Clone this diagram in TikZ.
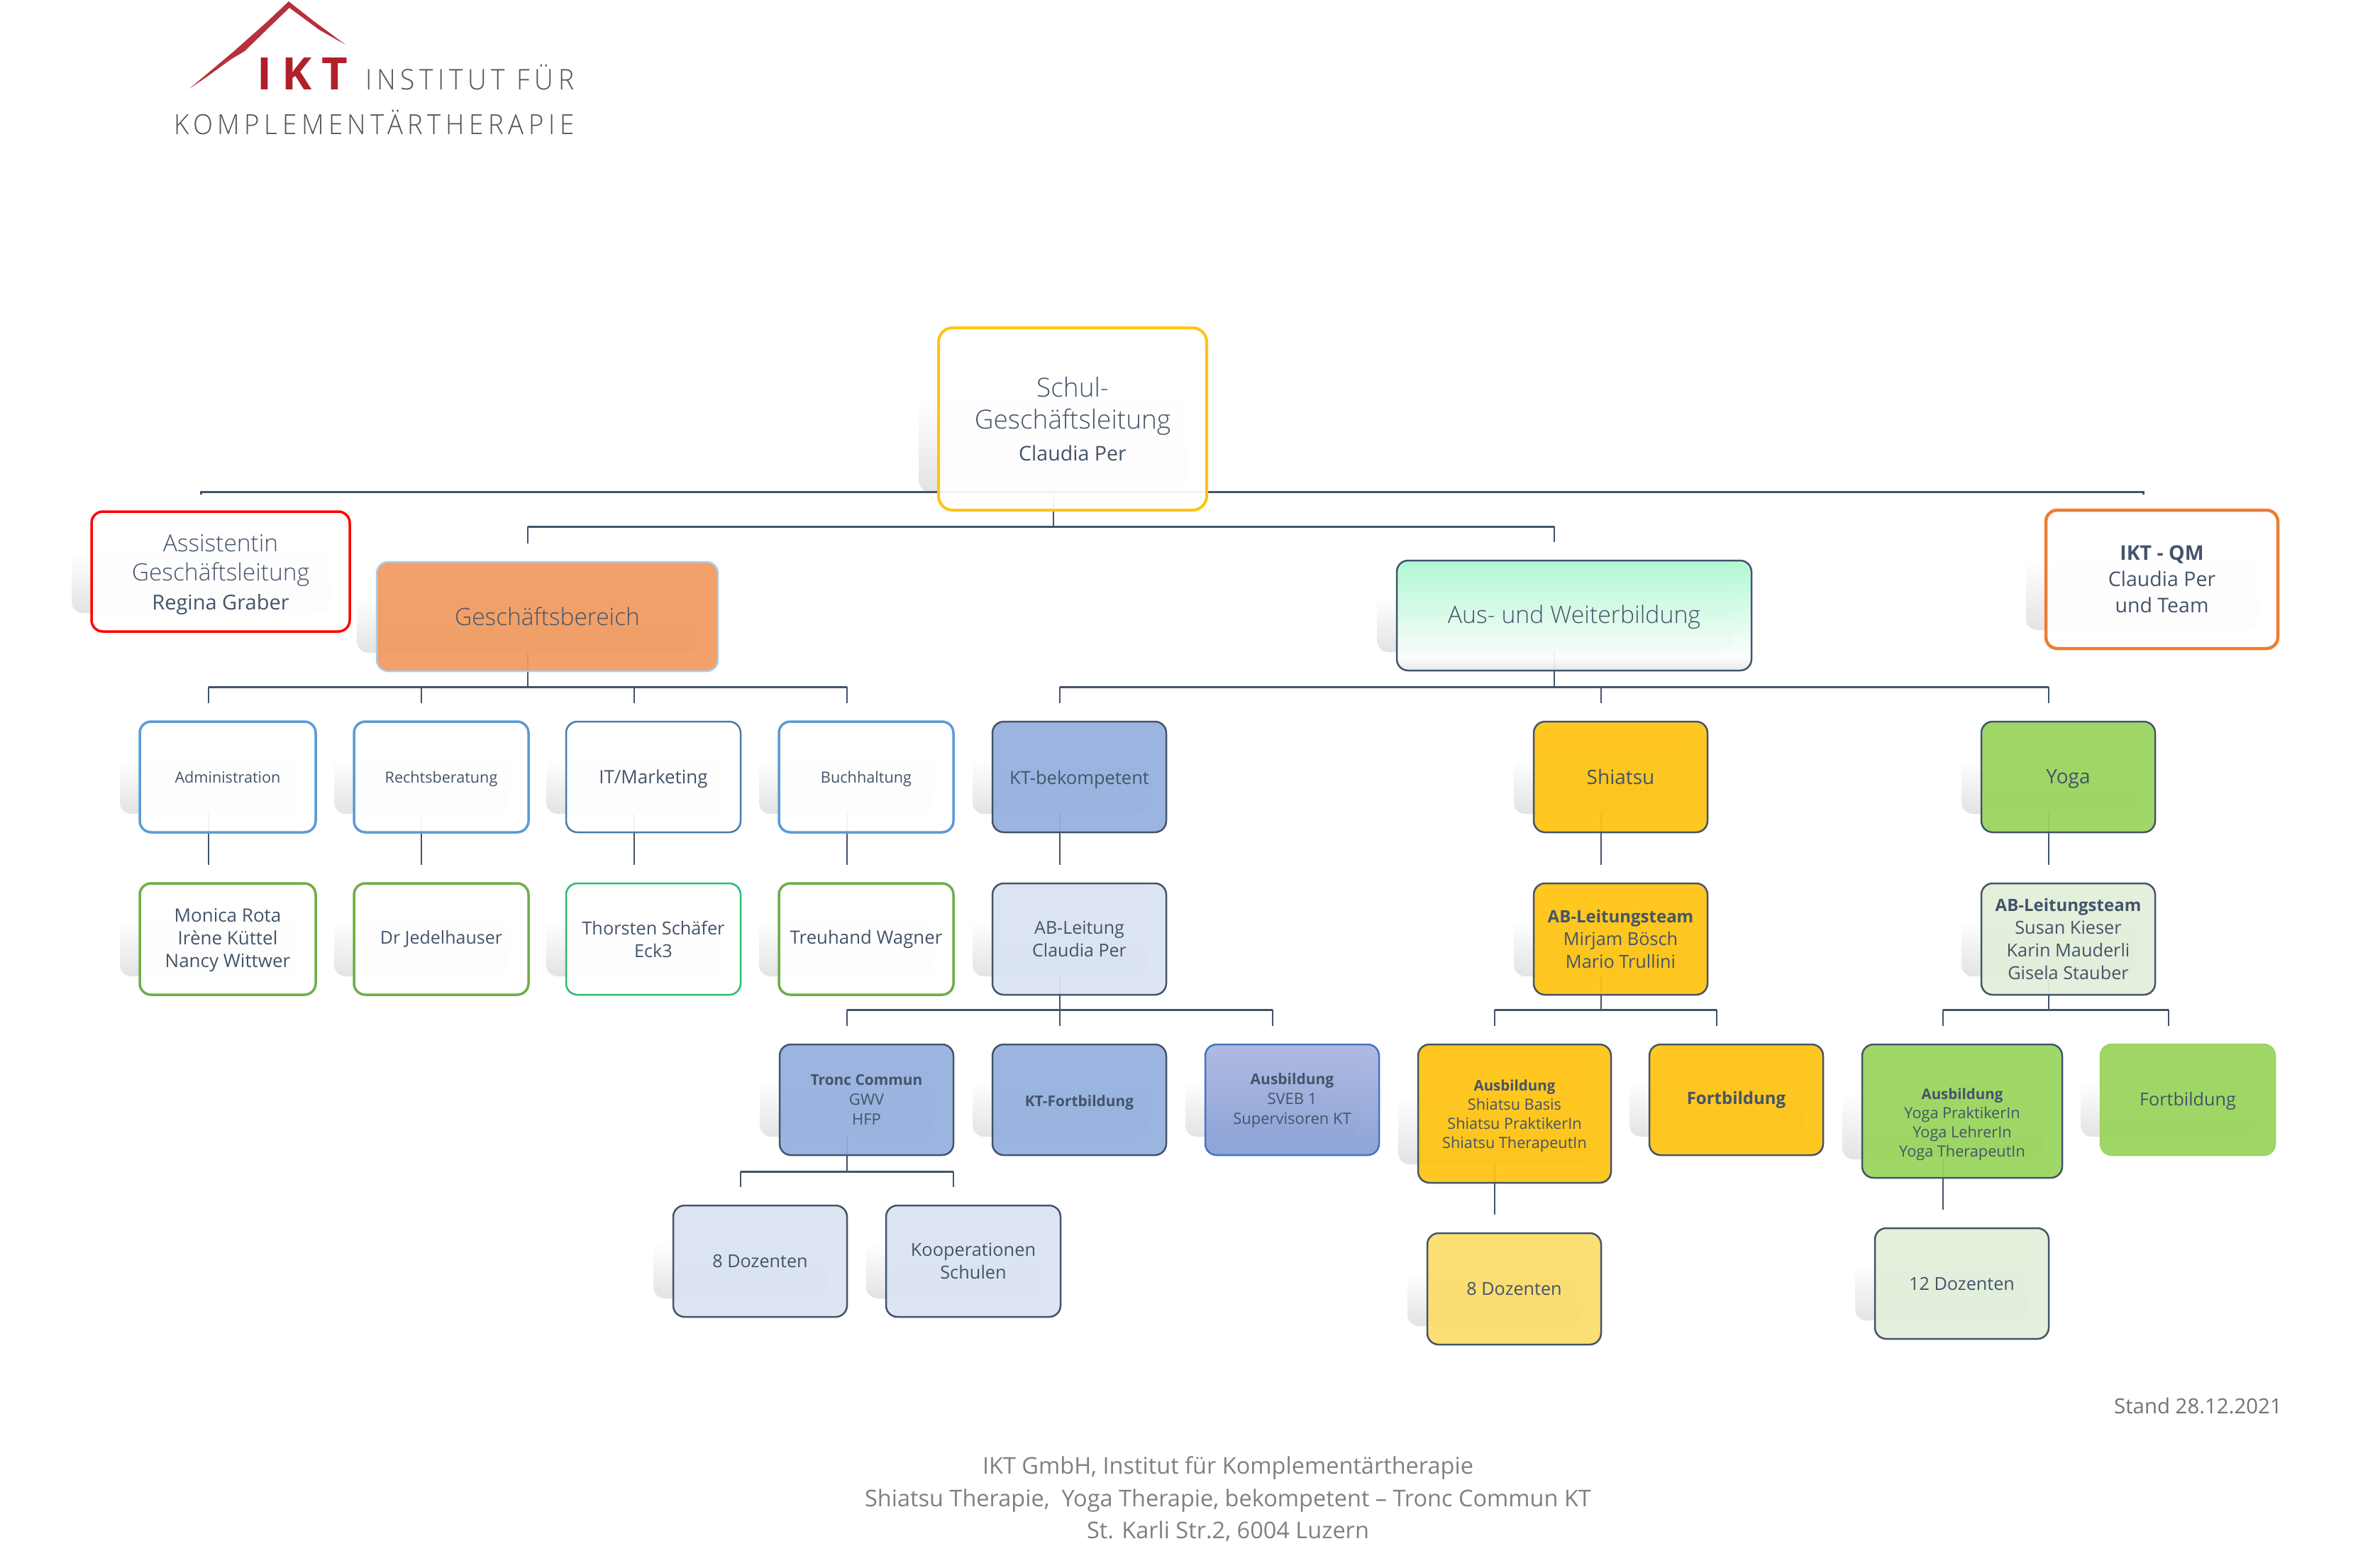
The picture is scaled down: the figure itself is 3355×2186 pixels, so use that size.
\documentclass[tikz,border=0pt]{standalone}
\usepackage{fontspec}
\usepackage{graphicx}
\setmainfont{Open Sans}
\newfontfamily\lt{Open Sans Light}
\newfontfamily\logof[LetterSpace=18]{Open Sans Light}
\newfontfamily\logob[LetterSpace=22]{Open Sans}
\usetikzlibrary{backgrounds}
\pgfdeclarelayer{shadowlayer}
\pgfsetlayers{shadowlayer,background,main}
\definecolor{ink}{HTML}{44546A}
\definecolor{logored}{HTML}{B0202A}
\newcommand{\fs}[2]{\fontsize{#1}{#2}\selectfont}
\newcommand{\bb}[2]{{\bfseries\fontsize{#1}{#1}\selectfont #2}}
\definecolor{ausbot}{HTML}{E6E6E6}
\definecolor{auswhite}{HTML}{FBFEFC}
\definecolor{austop}{HTML}{ABF8D0}
\definecolor{ausA}{HTML}{A9B6DF}
\definecolor{ausB}{HTML}{869DD6}
\definecolor{ausC}{HTML}{4472C4}
\definecolor{qmor}{HTML}{ED7D31}
\definecolor{thgr}{HTML}{2EB872}
\pgfdeclareverticalshading{ausw}{100bp}{color(0bp)=(ausbot); color(25bp)=(ausbot); color(31bp)=(auswhite); color(75bp)=(austop); color(100bp)=(austop)}
\definecolor{HTMLblue}{HTML}{5B9BD5}
\definecolor{HTMLgreen}{HTML}{70AD47}
\definecolor{HTMLkb}{HTML}{94AFDE}
\definecolor{HTMLkp}{HTML}{DAE3F2}
\definecolor{HTMLyel}{HTML}{FFC310}
\definecolor{HTMLgrn}{HTML}{99D55C}
\definecolor{HTMLgp}{HTML}{E2EFDA}
\definecolor{HTMLyp}{HTML}{FCDD69}
\definecolor{HTMLor}{HTML}{F09A5E}
\tikzset{
  boxbase/.style={draw=ink,line width=2.5pt,rounded corners=16pt,inner sep=0pt,outer sep=0pt,align=center,text=ink,fill opacity=.93,text opacity=1},
  shadowbox/.style={rounded corners=16pt,top color=white,bottom color=black!11,middle color=white},
  conn/.style={draw=ink,line width=2.2pt},
  busline/.style={draw=ink,line width=3pt},
  bluebord/.style={draw=HTMLblue,line width=3.5pt,fill=white},
  greenbord/.style={draw=HTMLgreen,line width=3.5pt,fill=white},
  kblue/.style={fill=HTMLkb},
  kpale/.style={fill=HTMLkp},
  yel/.style={fill=HTMLyel},
  grn/.style={fill=HTMLgrn},
  gpale/.style={fill=HTMLgp},
  ypale/.style={fill=HTMLyp},
}
% name, x1, y1, x2, y2, style, text
\newcommand{\bx}[7]{%
  \begin{pgfonlayer}{shadowlayer}
    \shade[shadowbox] ({#2-28},{#3-26}) rectangle ({#4-28},{#5-26});
  \end{pgfonlayer}
  \node[boxbase,minimum width={(#4-#2)*1pt},minimum height={(#5-#3)*1pt},#6] (#1) at ({(#2+#4)/2},{(#3+#5)/2}) {#7};
}
% parent, stem x, bus y, list of childx/child
\newcommand{\kids}[4]{%
  \coordinate (b) at (#2,#3);
  \draw[conn] ([yshift=26pt]#1.south -| b) -- (b);
  \foreach \cx/\ch in {#4} {
    \coordinate (c) at (\cx,0);
    \draw[busline] (b) -- (c |- b);
    \draw[conn] (c |- b) -- ([yshift=26pt]\ch.north -| c);
  }
}
% parent, x, child
\newcommand{\single}[3]{%
  \coordinate (c) at (#2,0);
  \draw[conn] ([yshift=26pt]#1.south -| c) -- ([yshift=26pt]#3.north -| c);
}
\begin{document}
\begin{tikzpicture}[x=1pt,y=-1pt]
\useasboundingbox (0,0) rectangle (3355,2186);

% logo
\fill[logored,opacity=.92] (267,125) -- (330,72) -- (375,32) -- (407,2) -- (440,28) -- (487,63) -- (450,42) -- (408,11) -- (382,36) -- (345,72) -- (325,84) -- (292,108) -- cycle;
\node[anchor=base west,inner sep=0pt,text=logored] (lg1) at (362,127) {\resizebox{128pt}{\height}{\fs{63}{63}\logob\bfseries IKT}};
\node[anchor=base west,inner sep=0pt,text=black!68] (lg2) at (515,127) {\resizebox{294pt}{\height}{\fs{40}{40}\logof INSTITUT FÜR}};
\node[anchor=base west,inner sep=0pt,text=black!68] (lg3) at (245,190) {\resizebox{564pt}{\height}{\fs{39}{39}\logof KOMPLEMENTÄRTHERAPIE}};

% level 1
\bx{top}{1323}{462}{1701}{719}{fill=white,draw=HTMLyel,line width=4pt,rounded corners=20pt,font=\fs{28.6}{45}}{{\lt\fs{37}{45}Schul-}\\{\lt\fs{37}{45}Geschäftsleitung}\\Claudia Per}
\bx{ass}{129}{721}{493}{890}{fill=white,draw=red,line width=3.5pt,font=\fs{29}{41}}{{}\\[-8pt]{\lt\fs{33.5}{41}Assistentin}\\{\lt\fs{33.5}{41}Geschäftsleitung}\\Regina Graber}
\bx{geb}{531}{792}{1012}{946}{fill=HTMLor,draw=HTMLblue!50,line width=2.5pt,font=\lt\fs{33.5}{45}}{Geschäftsbereich}
\bx{aus}{1969}{790}{2469}{945}{shade,shading=ausw,font=\lt\fs{33.8}{45}}{{}\\[-14pt]Aus- und Weiterbildung}
\bx{qm}{2884}{719}{3211}{914}{fill=white,draw=qmor,line width=4.5pt,font=\fs{28.5}{37}}{\textbf{IKT - QM}\\Claudia Per\\und Team}

% level 2
\bx{adm}{197}{1017}{445}{1173}{bluebord,font=\fs{21.6}{28}}{Administration}
\bx{rec}{499}{1017}{745}{1173}{bluebord,font=\fs{21.6}{28}}{{}\\[-5pt]Rechtsberatung}
\bx{it}{798}{1017}{1044}{1173}{bluebord,draw=HTMLblue!80!black,line width=2.5pt,font=\fs{26}{28}}{{}\\[-2pt]IT/Marketing}
\bx{buc}{1098}{1017}{1344}{1173}{bluebord,font=\fs{21.7}{28}}{{}\\[-5pt]Buchhaltung}
\bx{kt}{1399}{1017}{1644}{1173}{kblue,font=\fs{25.5}{28}}{{}\\[0pt]KT-bekompetent}
\bx{shi}{2162}{1017}{2407}{1173}{yel,font=\fs{28}{32}}{Shiatsu}
\bx{yog}{2793}{1017}{3038}{1173}{grn,font=\fs{28}{32}}{{}\\[-6pt]Yoga}

% level 3
\bx{mon}{197}{1245}{445}{1402}{greenbord,font=\fs{26}{32}}{{}\\[-9pt]Monica Rota\\Irène Küttel\\Nancy Wittwer}
\bx{jed}{499}{1245}{745}{1402}{greenbord,font=\fs{25}{32}}{Dr Jedelhauser}
\bx{tho}{798}{1245}{1044}{1402}{fill=white,draw=thgr,line width=2.5pt,font=\fs{25.3}{32}}{Thorsten Schäfer\\Eck3}
\bx{tre}{1098}{1245}{1344}{1402}{greenbord,font=\fs{25.8}{32}}{Treuhand Wagner}
\bx{abk}{1399}{1245}{1644}{1402}{kpale,font=\fs{25}{32}}{AB-Leitung\\Claudia Per}
\bx{abs}{2162}{1245}{2407}{1402}{yel,font=\fs{25.3}{32}}{\bb{24}{AB-Leitungsteam}\\Mirjam Bösch\\Mario Trullini}
\bx{aby}{2793}{1245}{3038}{1402}{gpale,font=\fs{25.3}{32}}{\bb{24}{AB-Leitungsteam}\\Susan Kieser\\Karin Mauderli\\Gisela Stauber}

% level 4
\bx{tro}{1099}{1472}{1344}{1628}{kblue,font=\fs{22}{28}}{{}\\[-13pt]\bb{20.9}{Tronc Commun}\\GWV\\HFP}
\bx{ktf}{1399}{1472}{1644}{1628}{kblue,font=\fs{22}{28}}{{}\\[-4.5pt]\bb{20.9}{KT-Fortbildung}}
\bx{ksv}{1699}{1472}{1944}{1628}{top color=ausA,bottom color=ausB,draw=ausC,font=\fs{22}{28}}{{}\\[-9pt]\bb{21}{Ausbildung}\\SVEB 1\\Supervisoren KT}
\bx{sab}{1999}{1472}{2271}{1667}{yel,font=\fs{21.7}{27}}{{}\\[-4.5pt]\bb{20.5}{Ausbildung}\\Shiatsu Basis\\Shiatsu PraktikerIn\\Shiatsu TherapeutIn}
\bx{sfo}{2325}{1472}{2570}{1628}{yel,font=\fs{26}{32}}{{}\\[-13pt]\bb{24}{Fortbildung}}
\bx{yab}{2625}{1472}{2907}{1660}{grn,font=\fs{21.7}{27}}{{}\\[27pt]\bb{20.5}{Ausbildung}\\Yoga PraktikerIn\\Yoga LehrerIn\\Yoga TherapeutIn}
\bx{yfo}{2961}{1472}{3207}{1628}{grn,draw=HTMLgrn,font=\fs{25.2}{32}}{{}\\[-8.5pt]Fortbildung}

% level 5
\bx{kdz}{949}{1699}{1194}{1856}{kpale,font=\fs{25.2}{32}}{8 Dozenten}
\bx{koo}{1249}{1699}{1495}{1856}{kpale,font=\fs{25.4}{32}}{Kooperationen\\Schulen}
\bx{sdz}{2012}{1738}{2257}{1895}{ypale,font=\fs{25.2}{32}}{8 Dozenten}
\bx{ydz}{2643}{1731}{2888}{1887}{gpale,font=\fs{25.2}{32}}{12 Dozenten}

% connectors, behind the boxes
\begin{pgfonlayer}{background}
  \coordinate (tl) at (283,697);
  \coordinate (tr) at (3021,697);
  \draw[busline] (tl) -- (283,693) -- (3021,693) -- (tr);
  \kids{top}{1485}{742}{744/geb,2191/aus}
  \kids{geb}{744}{968}{294/adm,594/rec,894/it,1194/buc}
  \kids{aus}{2191}{968}{1494/kt,2257/shi,2888/yog}
  \single{adm}{294}{mon}
  \single{rec}{594}{jed}
  \single{it}{894}{tho}
  \single{buc}{1194}{tre}
  \single{kt}{1494}{abk}
  \single{shi}{2257}{abs}
  \single{yog}{2888}{aby}
  \kids{abk}{1494}{1423}{1194/tro,1494/ktf,1794/ksv}
  \kids{tro}{1194}{1651}{1044/kdz,1344/koo}
  \kids{abs}{2257}{1423}{2107/sab,2420/sfo}
  \kids{aby}{2888}{1423}{2739/yab,3057/yfo}
  \single{sab}{2107}{sdz}
  \single{yab}{2739}{ydz}
\end{pgfonlayer}

% footer
\node[anchor=east,inner sep=0pt,text=black!55,font=\fs{29.4}{32}] (stand) at (3217,1982) {Stand 28.12.2021};
\node[inner sep=0pt,align=center,text=black!50,font=\fs{32.5}{45.5}] (foot) at (1731,2113) {IKT GmbH, Institut für Komplementärtherapie\\Shiatsu Therapie,\ \ Yoga Therapie, bekompetent – Tronc Commun KT\\St. Karli Str.2, 6004 Luzern};
\end{tikzpicture}
\end{document}
